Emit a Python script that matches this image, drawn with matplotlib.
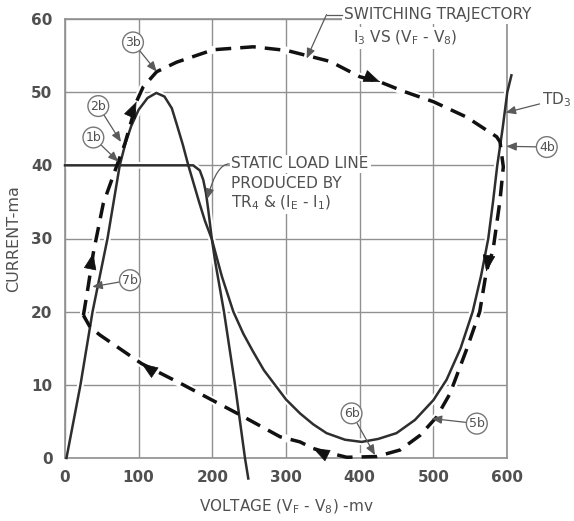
import matplotlib
matplotlib.use("Agg")
import matplotlib.pyplot as plt
import numpy as np

plt.rcParams["font.family"] = "DejaVu Sans"
plt.rcParams["mathtext.default"] = "regular"

# tunnel diode TD3 characteristic, mV / mA
td_v = [2, 21, 37.4, 57.7, 74.3, 82, 90, 100, 112, 124, 135, 145, 152, 160,
        167.4, 175, 182, 190, 199, 213, 228.5, 242, 255, 270, 285, 300, 319,
        337, 355, 380, 402.7, 425, 450, 475, 500, 518, 537, 553.4, 565,
        574.6, 581, 586.8, 594, 600.4, 606]
td_i = [0, 10, 20, 30, 40, 43, 45.4, 47.6, 49.2, 49.9, 49.4, 47.8, 45.5, 42.8,
        40, 37.4, 35, 32.4, 30, 24.8, 20, 17, 14.6, 12, 10, 8, 6.1,
        4.6, 3.4, 2.5, 2.2, 2.6, 3.4, 5.2, 7.9, 10.7, 15, 20, 25,
        30, 35, 40, 45, 50, 52.3]

# static load line of TR4 & (IE - I1)
load_v = [0, 174, 183, 187.7, 191.4, 194.5, 199, 203.6, 215.8, 230.8, 244.3, 248.8]
load_i = [40, 40, 39.3, 38, 36.2, 33.9, 30.2, 27, 20, 10, 0, -2.8]

# switching trajectory I3 vs (VF - V8), starting at 7b
traj_v = [25, 31.7, 38.4, 52, 68, 81.4, 90.5, 97, 106, 124.5, 151.6, 201.3,
          255.6, 301, 360, 400.4, 427.6, 460, 500, 545, 586, 590.5, 595,
          590.5, 581, 572, 563, 545, 522.6, 504.5, 482, 455, 423, 382.4,
          350.6, 337, 319, 292, 237.5, 160.6, 104, 47.5, 34, 25]
traj_i = [19.5, 23.6, 28, 34.8, 39.3, 43, 46.2, 48.7, 50.7, 52.8, 54.1, 55.8,
          56.2, 55.7, 54.2, 52.1, 51.4, 50.1, 48.7, 46.6, 43.9, 43.2, 39.8,
          35.2, 28.4, 25.5, 20, 14.8, 8.8, 5.6, 3.1, 1.1, 0.2, 0.1,
          0.9, 1.3, 2.2, 2.9, 5.9, 10, 12.9, 16.8, 17.9, 19.5]
# trajectory points carrying a direction arrow
arrow_idx = [2, 7, 16, 25, 35, 40]

# numbered states: (label, label position, point on trajectory)
states = [
    ("1b", (38.5, 43.8), (72.4, 40.5)),
    ("2b", (45.2, 48.1), (76, 43.2)),
    ("3b", (92.3, 56.8), (124.5, 52.8)),
    ("4b", (654, 42.5), (599, 42.6)),
    ("5b", (559, 4.7), (497.7, 5.4)),
    ("6b", (389, 6.1), (420.8, 0.4)),
    ("7b", (88.2, 24.3), (37, 23.4)),
]

fig = plt.figure(figsize=(5.74, 5.21), dpi=100)
ax = fig.add_axes([65 / 574, 63 / 521, 442 / 574, 439 / 521])

grid_c = "#909090"
ink = "#2e2e2e"
txt_c = "#505050"
lead_c = "#5a5a5a"

ax.set_xlim(0, 600)
ax.set_ylim(0, 60)
ax.set_xticks(np.arange(0, 601, 100))
ax.set_yticks(np.arange(0, 61, 10))
ax.grid(True, color=grid_c, lw=1.0)
ax.set_axisbelow(True)
ax.tick_params(length=0, pad=9, labelsize=11, labelcolor=txt_c)
for lab in ax.get_xticklabels() + ax.get_yticklabels():
    lab.set_fontweight("bold")
for sp in ax.spines.values():
    sp.set_color(grid_c)
    sp.set_linewidth(1.2)

# white halos first so the grid breaks where the curves cross it
for xs, ys, lw in [(td_v, td_i, 1.8), (load_v, load_i, 1.8), (traj_v, traj_i, 2.5)]:
    ax.plot(xs, ys, color="white", lw=lw + 3, solid_capstyle="round",
            zorder=2, clip_on=False)

ax.plot(td_v, td_i, color=ink, lw=1.8, zorder=3, clip_on=False)
ax.plot(load_v, load_i, color=ink, lw=1.8, zorder=3, clip_on=False)
ax.plot(traj_v, traj_i, color="#111111", lw=2.5, dashes=(4.5, 2.6),
        zorder=4, clip_on=False)

for k in arrow_idx:
    p = np.array([traj_v[k], traj_i[k]])
    q = np.array([traj_v[k + 1], traj_i[k + 1]])
    tail = p - 0.02 * (q - p)
    ax.annotate("", xy=p, xytext=tail,
                arrowprops=dict(arrowstyle="-|>,head_length=0.9,head_width=0.35",
                                color="#111111", lw=0.5, shrinkA=0, shrinkB=0,
                                mutation_scale=12),
                zorder=5, annotation_clip=False)

lead = dict(arrowstyle="-|>,head_length=0.6,head_width=0.25",
            color=lead_c, lw=0.9, shrinkA=0, shrinkB=0, mutation_scale=10)

for name, pos, tgt in states:
    ax.annotate(name, xy=tgt, xytext=pos, fontsize=9, color=txt_c,
                ha="center", va="center",
                bbox=dict(boxstyle="circle,pad=0.2", fc="white", ec="#777777", lw=1),
                arrowprops=lead, zorder=6, annotation_clip=False)

# TD3 label
ax.annotate("TD$_3$", xy=(598, 47.2), xytext=(648, 49.0), fontsize=11,
            color=txt_c, ha="left", va="center", arrowprops=lead,
            zorder=6, annotation_clip=False)

# switching trajectory caption
box = dict(boxstyle="square,pad=0.12", fc="white", ec="none")
ax.text(379, 60.6, "SWITCHING TRAJECTORY", fontsize=11, color=txt_c,
        ha="left", va="center", bbox=box, zorder=6, clip_on=False)
ax.text(391, 57.4, "I$_3$ VS (V$_F$ - V$_8$)", fontsize=11, color=txt_c,
        ha="left", va="center", bbox=box, zorder=6, clip_on=False)
ax.plot([355, 376], [60.6, 60.6], color=lead_c, lw=0.9, zorder=6, clip_on=False)
ax.annotate("", xy=(328, 54.6), xytext=(355, 60.6), arrowprops=lead,
            zorder=6, annotation_clip=False)

# static load line caption
ax.text(226, 40.2, "STATIC LOAD LINE", fontsize=11, color=txt_c,
        ha="left", va="center", bbox=box, zorder=6)
ax.text(226, 37.5, "PRODUCED BY", fontsize=11, color=txt_c,
        ha="left", va="center", bbox=box, zorder=6)
ax.text(226, 34.9, "TR$_4$ & (I$_E$ - I$_1$)", fontsize=11, color=txt_c,
        ha="left", va="center", bbox=box, zorder=6)
ax.annotate("", xy=(193, 35.4), xytext=(223, 40.2),
            arrowprops=dict(lead, connectionstyle="angle3,angleA=180,angleB=75"),
            zorder=6)

ax.set_xlabel("VOLTAGE (V$_F$ - V$_8$) -mv", fontsize=11, color=txt_c, labelpad=9)
ax.set_ylabel("CURRENT-ma", fontsize=11.5, color=txt_c, labelpad=7)

fig.savefig("out.png", dpi=100)
